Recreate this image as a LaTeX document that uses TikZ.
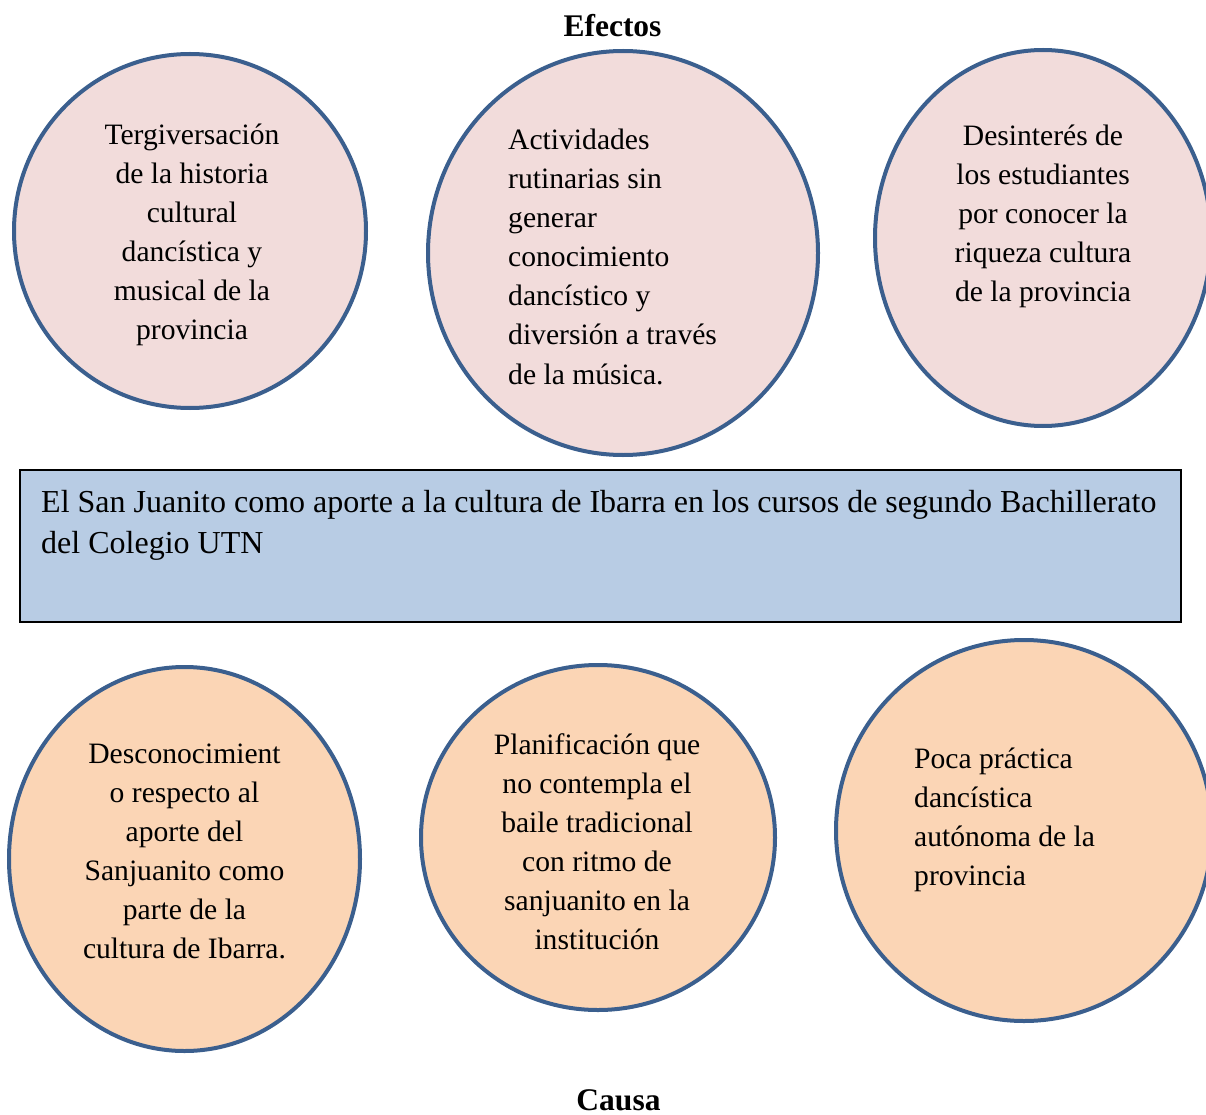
\documentclass[tikz,border=0pt]{standalone}
\usepackage{fontspec}
\setmainfont{Liberation Serif}
\usetikzlibrary{shapes.geometric}
\definecolor{ringblue}{HTML}{3B5F8E}
\definecolor{effectpink}{HTML}{F2DCDB}
\definecolor{causepeach}{HTML}{FBD5B5}
\definecolor{boxblue}{HTML}{B8CCE4}
\begin{document}
\begin{tikzpicture}[x=1pt,y=-1pt,
  ring/.style={ellipse, draw=ringblue, line width=4pt, inner sep=0pt},
  effect/.style={ring, fill=effectpink},
  cause/.style={ring, fill=causepeach},
  txt/.style={inner sep=0pt, font=\fontsize{29.6}{39}\selectfont},
  ttl/.style={inner sep=0pt, anchor=base, font=\bfseries\fontsize{31.5}{38}\selectfont},
  ]
\useasboundingbox (0,0) rectangle (1206,1115);
% effect circles
\node[effect, minimum width=352pt, minimum height=354pt] (e1) at (190,231) {};
\node[effect, minimum width=390pt, minimum height=404pt] (e2) at (623,253) {};
\node[effect, minimum width=336pt, minimum height=376pt] (e3) at (1043,238) {};
% central problem
\node[draw=black, line width=1.5pt, fill=boxblue, inner sep=0pt, minimum width=1161pt, minimum height=152pt] (prob) at (600.5,546) {};
% cause circles
\node[cause, minimum width=351pt, minimum height=384pt] (c1) at (184.5,859) {};
\node[cause, minimum width=354pt, minimum height=345pt] (c2) at (598,837.5) {};
\node[cause, minimum width=376pt, minimum height=381pt] (c3) at (1024,830.5) {};
% titles
\node[ttl] (efectos) at (612.5,37) {Efectos};
\node[ttl] (causa) at (618.5,1110) {Causa};
% texts
\node[txt, anchor=base] (te1) at (192,145) {\begin{tabular}[t]{@{}c@{}}Tergiversación\\de la historia\\cultural\\dancística y\\musical de la\\provincia\end{tabular}};
\node[txt, anchor=base west] (te2) at (508,150) {\begin{tabular}[t]{@{}l@{}}Actividades\\rutinarias sin\\generar\\conocimiento\\dancístico y\\diversión a través\\de la música.\end{tabular}};
\node[txt, anchor=base] (te3) at (1043,146) {\begin{tabular}[t]{@{}c@{}}Desinterés de\\los estudiantes\\por conocer la\\riqueza cultura\\de la provincia\end{tabular}};
\node[inner sep=0pt, anchor=base west, font=\fontsize{32}{41}\selectfont] (tprob) at (41,512) {\begin{tabular}[t]{@{}l@{}}El San Juanito como aporte a la cultura de Ibarra en los cursos de segundo Bachillerato\\del Colegio UTN\end{tabular}};
\node[txt, anchor=base] (tc1) at (184.5,763) {\begin{tabular}[t]{@{}c@{}}Desconocimient\\o respecto al\\aporte del\\Sanjuanito como\\parte de la\\cultura de Ibarra.\end{tabular}};
\node[txt, anchor=base] (tc2) at (597,754) {\begin{tabular}[t]{@{}c@{}}Planificación que\\no contempla el\\baile tradicional\\con ritmo de\\sanjuanito en la\\institución\end{tabular}};
\node[txt, anchor=base west] (tc3) at (914,768) {\begin{tabular}[t]{@{}l@{}}Poca práctica\\dancística\\autónoma de la\\provincia\end{tabular}};
\end{tikzpicture}
\end{document}
